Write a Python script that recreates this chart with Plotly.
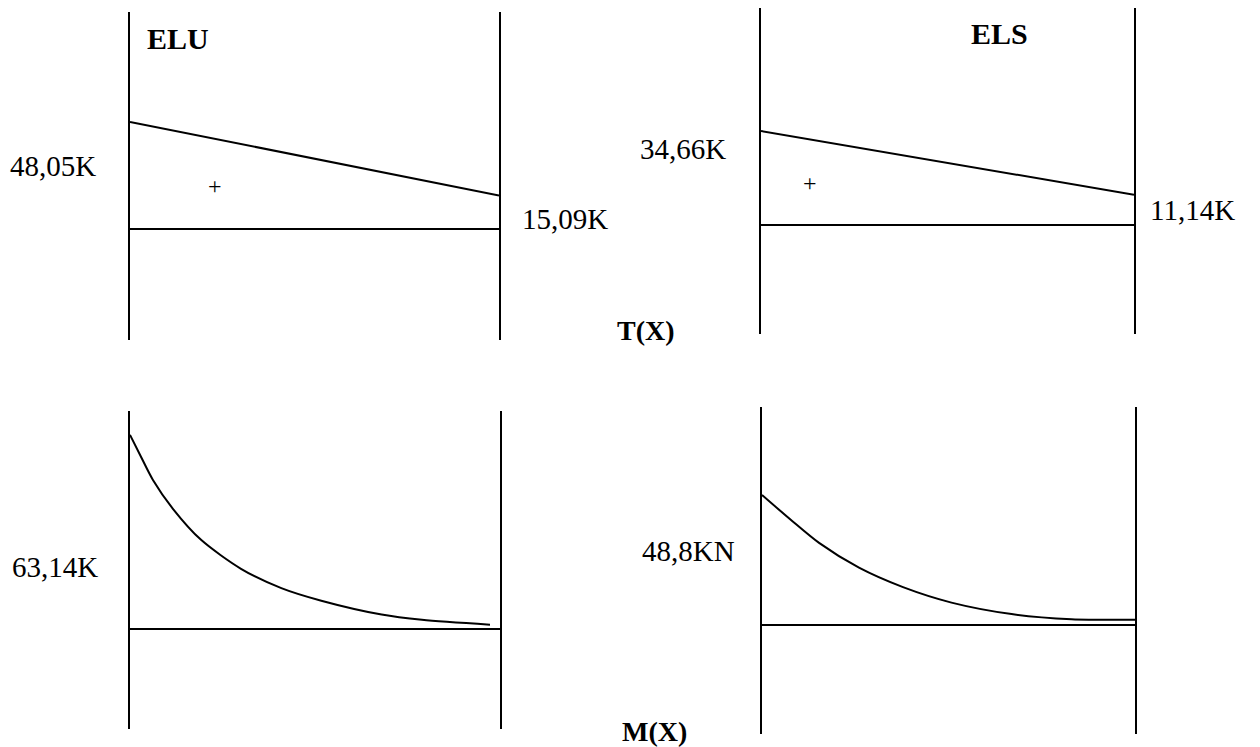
import plotly.graph_objects as go

# effort tranchant T(x) (kN), aux appuis
x_T = [0.0, 1.0]
T_elu = [48.05, 15.09]
T_els = [34.66, 11.14]

x_M_elu = [0.0, 0.029, 0.062, 0.116, 0.192, 0.300, 0.409, 0.517, 0.680, 0.789, 0.973]
M_elu = [63.14, 56.2, 48.5, 39.1, 29.0, 19.6, 13.3, 9.2, 4.7, 3.0, 1.4]
x_M_els = [0.0, 0.077, 0.153, 0.260, 0.378, 0.508, 0.669, 0.830, 1.0]
M_els = [48.8, 39.5, 30.8, 21.5, 14.2, 8.4, 4.1, 2.2, 2.0]

# the page puts an 8px margin round the plot
OFF = 8
W, H = 1260 - OFF, 747 - OFF

def px(x):
    return (x - OFF) / W

def py(y):
    return 1 - (y - OFF) / H

fnt = "Liberation Serif"
line = dict(color="black", width=2)
curve = dict(color="black", width=2, shape="spline", smoothing=0.8)

fig = go.Figure()

fig.add_trace(go.Scatter(x=x_T, y=T_elu, mode="lines", line=line, xaxis="x", yaxis="y"))
fig.add_trace(go.Scatter(x=[0, 1], y=[0, 0], mode="lines", line=line, xaxis="x", yaxis="y"))
fig.add_trace(go.Scatter(x=x_T, y=T_els, mode="lines", line=line, xaxis="x2", yaxis="y2"))
fig.add_trace(go.Scatter(x=[0, 1], y=[0, 0], mode="lines", line=line, xaxis="x2", yaxis="y2"))
fig.add_trace(go.Scatter(x=x_M_elu, y=M_elu, mode="lines", line=curve, xaxis="x3", yaxis="y3"))
fig.add_trace(go.Scatter(x=[0, 1], y=[0, 0], mode="lines", line=line, xaxis="x3", yaxis="y3"))
fig.add_trace(go.Scatter(x=x_M_els, y=M_els, mode="lines", line=curve, xaxis="x4", yaxis="y4"))
fig.add_trace(go.Scatter(x=[0, 1], y=[0, 0], mode="lines", line=line, xaxis="x4", yaxis="y4"))

xa = dict(range=[0, 1], showline=False, showgrid=False, zeroline=False, showticklabels=False)
ya = dict(showline=True, mirror=True, linecolor="black", linewidth=2, showgrid=False,
          zeroline=False, showticklabels=False, ticks="")

fig.update_layout(
    width=W, height=H,
    margin=dict(l=0, r=0, t=0, b=0),
    paper_bgcolor="white", plot_bgcolor="white",
    showlegend=False,
    xaxis=dict(xa, domain=[px(130), px(499)], anchor="y"),
    yaxis=dict(ya, domain=[py(340), py(12)], range=[-49.8, 97.4], anchor="x"),
    xaxis2=dict(xa, domain=[px(761), px(1134)], anchor="y2"),
    yaxis2=dict(ya, domain=[py(334), py(8)], range=[-40.2, 80.0], anchor="x2"),
    xaxis3=dict(xa, domain=[px(130), px(500)], anchor="y3"),
    yaxis3=dict(ya, domain=[py(729), py(411)], range=[-32.5, 70.9], anchor="x3"),
    xaxis4=dict(xa, domain=[px(762), px(1135)], anchor="y4"),
    yaxis4=dict(ya, domain=[py(734), py(407)], range=[-40.9, 81.8], anchor="x4"),
)

def note(text, x, y, bold=False, size=29, xanchor="left"):
    fig.add_annotation(text=f"<b>{text}</b>" if bold else text, x=px(x), y=py(y),
                       xref="paper", yref="paper", xanchor=xanchor, yanchor="middle",
                       showarrow=False, font=dict(family=fnt, size=size, color="black"))

note("ELU", 145, 38, bold=True, size=30)
note("ELS", 969, 33, bold=True, size=30)
note("48,05K", 8, 166)
note("15,09K", 520, 219)
note("34,66K", 638, 149)
note("11,14K", 1148, 210)
note("+", 215, 186, size=24, xanchor="center")
note("+", 810, 183, size=24, xanchor="center")
note("T(X)", 615, 330, bold=True, size=28)
note("63,14K", 10, 567)
note("48,8KN", 640, 551)
note("M(X)", 620, 731, bold=True, size=28)

fig.write_html("out.html")
